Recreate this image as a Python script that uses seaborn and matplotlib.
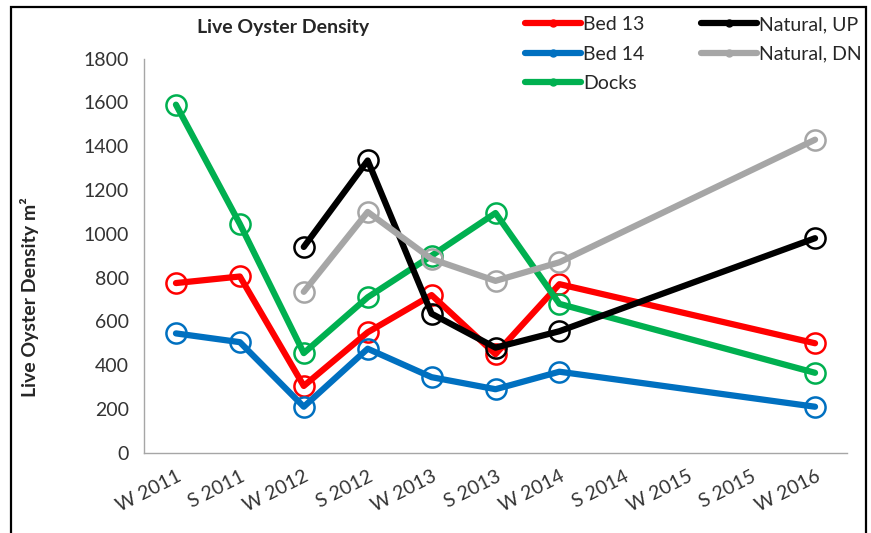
import numpy as np
import pandas as pd
import matplotlib
matplotlib.use("Agg")
import matplotlib.pyplot as plt
from matplotlib.lines import Line2D
from matplotlib.patches import Rectangle
import seaborn as sns

# data (nan = no sample that season)
seasons = ["W 2011", "S 2011", "W 2012", "S 2012", "W 2013", "S 2013",
           "W 2014", "S 2014", "W 2015", "S 2015", "W 2016"]
sites = ["Bed 13", "Bed 14", "Docks", "Natural, UP", "Natural, DN"]
site_colors = ["#FF0000", "#0070C0", "#00B050", "#000000", "#A6A6A6"]
nan = np.nan
bed13 = [775, 805, 305, 550, 720, 450, 770, nan, nan, nan, 500]
bed14 = [545, 505, 210, 475, 345, 290, 370, nan, nan, nan, 210]
docks = [1590, 1045, 455, 710, 900, 1095, 680, nan, nan, nan, 365]
natural_up = [nan, nan, 940, 1335, 635, 480, 555, nan, nan, nan, 980]
natural_dn = [nan, nan, 735, 1100, 885, 785, 870, nan, nan, nan, 1430]
y_ticks = [0, 200, 400, 600, 800, 1000, 1200, 1400, 1600, 1800]


def get_df():
    rows = []
    for var_site, var_values in zip(sites, [bed13, bed14, docks, natural_up, natural_dn]):
        for var_pos, var_value in enumerate(var_values):
            if not np.isnan(var_value):
                rows.append([var_site, var_pos, var_value])
    return pd.DataFrame(rows, columns=["site", "pos", "density"])


def main():
    sns.set_style("white")
    plt.rcParams['font.family'] = ['Lato', 'DejaVu Sans']
    df = get_df()

    fig = plt.figure(figsize=(8.71, 5.33), dpi=100)
    ax = fig.add_axes([144 / 871, 1 - 452.7 / 533, (847 - 144) / 871, (452.7 - 58.7) / 533])
    sns.lineplot(data=df, x="pos", y="density", hue="site", hue_order=sites,
                 palette=site_colors, marker="o", markersize=14.5, markerfacecolor="none",
                 linewidth=4.5, errorbar=None, legend=False, ax=ax)
    for var_line in ax.lines:
        var_line.set_markeredgecolor(var_line.get_color())
        var_line.set_markerfacecolor("none")
        var_line.set_markeredgewidth(1.8)

    ax.set_xlim(-0.5, len(seasons) - 0.5)
    ax.set_ylim(0, 1800)
    ax.set_yticks(y_ticks)
    ax.set_xticks(np.arange(-0.5, len(seasons), 1))
    ax.set_xticklabels([])
    ax.set_xticks(range(len(seasons)), minor=True)
    ax.set_xticklabels(seasons, minor=True, rotation=27, ha="right",
                       va="top", rotation_mode="anchor")
    ax.tick_params(axis="x", which="minor", length=0, pad=11, labelsize=14, labelcolor="#333333")
    ax.tick_params(axis="x", which="major", length=6, width=1, color="#A6A6A6", direction="out")
    ax.tick_params(axis="y", length=6, width=1, color="#A6A6A6", direction="out",
                   labelsize=14, labelcolor="#333333", pad=5)
    ax.set_xlabel("")
    ax.set_ylabel("")
    for var_side in ["top", "right"]:
        ax.spines[var_side].set_visible(False)
    for var_side in ["left", "bottom"]:
        ax.spines[var_side].set_color("#A6A6A6")
        ax.spines[var_side].set_linewidth(1)

    fig.text(283 / 871, 1 - 27 / 533, "Live Oyster Density", fontsize=14,
             fontweight="bold", ha="center", va="center")
    fig.text(30 / 871, 1 - 297 / 533, "Live Oyster Density m²", fontsize=14,
             fontweight="bold", rotation=90, ha="center", va="center")

    handles = [Line2D([0], [0], color=c, lw=4.5, marker="o", markersize=5) for c in site_colors]
    fig.legend(handles, sites, loc="upper left", bbox_to_anchor=(525 / 871, 1 - 16 / 533),
               ncol=2, frameon=False, fontsize=14, handlelength=2.9, handletextpad=0.1,
               columnspacing=2.9, labelspacing=0.65, borderpad=0, borderaxespad=0)

    fig.patches.append(Rectangle((11 / 871, -0.05), (866 - 11) / 871, 1.05 - 7 / 533,
                                 transform=fig.transFigure, fill=False, lw=1.6, ec="black"))
    plt.savefig("out.png", dpi=100)
    return


if __name__ == "__main__":
    main()
